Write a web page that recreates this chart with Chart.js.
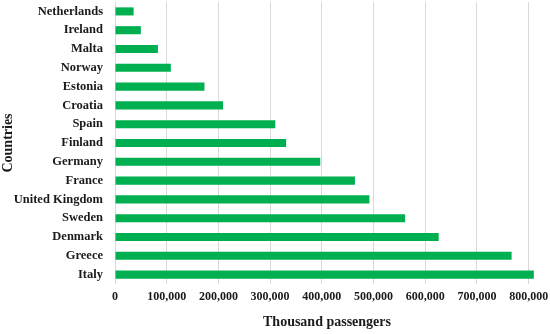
<!DOCTYPE html>
<html>
<head>
<meta charset="utf-8">
<script src="https://cdn.jsdelivr.net/npm/chart.js@4"></script>
<style>
  html, body { margin: 0; padding: 0; background: #fff; }
  #wrap { width: 550px; height: 334px; position: relative; }
</style>
</head>
<body>
<div id="wrap"><canvas id="myChart"></canvas></div>
<script>
const countries = [
  "Netherlands", "Ireland", "Malta", "Norway", "Estonia", "Croatia", "Spain",
  "Finland", "Germany", "France", "United Kingdom", "Sweden", "Denmark", "Greece", "Italy",
];
const passengers = [
  36000, 50000, 83000, 108000, 173000, 209000, 310000,
  331000, 397000, 464000, 492000, 561000, 626000, 767000, 810000,
];
const xTicks = [0, 100000, 200000, 300000, 400000, 500000, 600000, 700000, 800000];

const serif = "'Liberation Serif', 'Times New Roman', serif";

var ctx = document.getElementById("myChart").getContext("2d");
var myChart = new Chart(ctx, {
  type: "bar",
  data: {
    labels: countries,
    datasets: [
      {
        label: "Thousand passengers",
        data: passengers,
        backgroundColor: "#00b050",
        borderWidth: 0,
        categoryPercentage: 1,
        barPercentage: 0.43,
      },
    ],
  },
  options: {
    indexAxis: "y",
    responsive: true,
    maintainAspectRatio: false,
    animation: false,
    layout: { padding: { top: 2, right: 11, bottom: 0, left: 0 } },
    plugins: {
      legend: { display: false },
      tooltip: { enabled: false },
    },
    scales: {
      x: {
        min: 0,
        max: 820000,
        afterBuildTicks: (scale) => {
          scale.ticks = xTicks.map((v) => ({ value: v }));
        },
        afterFit: (scale) => {
          scale.height = 50;
          scale.paddingLeft = 0;
          scale.paddingRight = 0;
        },
        grid: { color: "#d9d9d9", lineWidth: 1, drawTicks: false },
        border: { display: false },
        ticks: {
          padding: 6,
          color: "#1a1a1a",
          font: { family: serif, size: 12, weight: "bold" },
          callback: (v) => Number(v).toLocaleString("en-US"),
          maxRotation: 0,
        },
        title: {
          display: true,
          text: "Thousand passengers",
          color: "#1a1a1a",
          font: { family: serif, size: 14, weight: "bold" },
          padding: { top: 10, bottom: 3 },
        },
      },
      y: {
        afterFit: (scale) => {
          scale.width = 115;
          scale.paddingTop = 0;
          scale.paddingBottom = 0;
        },
        grid: { display: false, drawTicks: false },
        border: { display: false },
        ticks: {
          autoSkip: false,
          padding: 12,
          color: "#1a1a1a",
          font: { family: serif, size: 12.5, weight: "bold" },
        },
        title: {
          display: true,
          text: "Countries",
          color: "#1a1a1a",
          font: { family: serif, size: 14, weight: "bold" },
          padding: { top: 0, bottom: 0 },
        },
      },
    },
  },
});
</script>
</body>
</html>
